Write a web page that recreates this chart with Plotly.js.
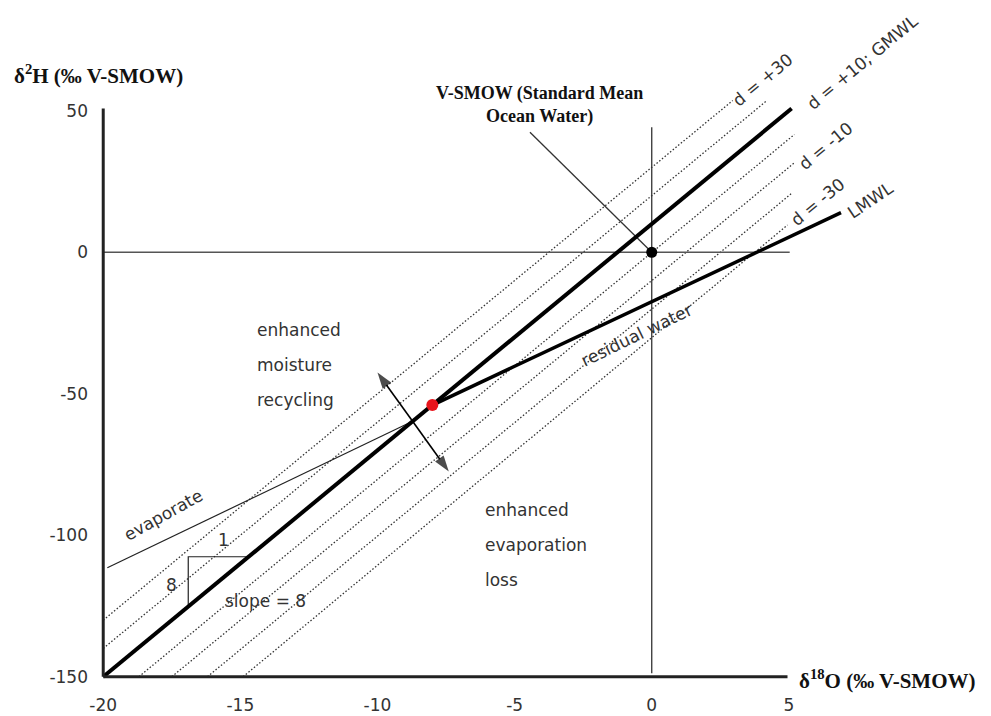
<!DOCTYPE html>
<html>
<head>
<meta charset="utf-8">
<script src="https://cdn.plot.ly/plotly-3.0.1.min.js"></script>
<style>html,body{margin:0;padding:0;background:#fff;}#chart{width:991px;height:716px;}</style>
</head>
<body>
<div id="chart"></div>
<script>
// ---- data ----
const xTickVals = [-20, -15, -10, -5, 0, 5];
const xTickText = ['-20', '-15', '-10', '-5', '0', '5'];
const yTickVals = [-150, -100, -50, 0, 50];
const yTickText = ['-150', '-100', '-50', '0', '50'];

// GMWL (d = +10)
const gmwlX = [-20, 5.1];
const gmwlY = [-150, 50.8];

// dotted deuterium-excess lines
const dValues = [30, 20, 0, -10, -20, -30];
const dStartX = [-20, -20, -18.7, -17.5, -16.2, -14.9];
const dStartY = [-130, -140, -150, -150, -150, -150];
const dEndX = [2.95, 4.2, 5.2, 5.2, 5.1, 4.95];
const dEndY = [53.6, 53.6, 41.6, 31.6, 20.8, 9.6];

// LMWL
const lmwlX = [-8, 6.9];
const lmwlY = [-54, 14];

// evaporation line
const evapX = [-19.85, -8.7];
const evapY = [-111.5, -59.6];

// slope triangle
const triX = [-16.9, -16.9, -14.7];
const triY = [-125.2, -107.6, -107.6];

// reference lines
const zeroH_X = [-20, 5.03];
const zeroH_Y = [0, 0];
const zeroV_X = [0, 0];
const zeroV_Y = [-148.8, 44.2];

// pointer to V-SMOW
const pointerX = [-4.44, 0];
const pointerY = [42.4, 0];

// axes
const axisLeftX = [-20, -20];
const axisLeftY = [-150, 50.8];
const axisBottomX = [-20, 4.95];
const axisBottomY = [-150, -150];

// points
const vsmowPtX = [0], vsmowPtY = [0];
const meetPtX = [-8], meetPtY = [-54];

// double arrow: middle, upper tip, lower tip
const arrowMidX = -8.7, arrowMidY = -60;
const arrowTopX = -10.0, arrowTopY = -42.5;
const arrowBotX = -7.4, arrowBotY = -77.5;

// ---- traces ----
const traces = [];
function line(x, y, color, width, dash) {
  traces.push({x: x, y: y, mode: 'lines', type: 'scatter', hoverinfo: 'skip',
    line: {color: color, width: width, dash: dash || 'solid'}, showlegend: false});
}
for (let i = 0; i < dValues.length; i++) {
  line([dStartX[i], dEndX[i]], [dStartY[i], dEndY[i]], '#333', 1.3, '1.5px,2px');
}
line(zeroH_X, zeroH_Y, '#555', 1.5);
line(zeroV_X, zeroV_Y, '#333', 1.3);
line(pointerX, pointerY, '#333', 1.3);
line(evapX, evapY, '#222', 1.2);
line(triX, triY, '#222', 1.2);
line(gmwlX, gmwlY, '#000', 4);
line(lmwlX, lmwlY, '#000', 3.5);
line(axisLeftX, axisLeftY, '#222', 3);
line(axisBottomX, axisBottomY, '#222', 3);
// double-headed arrow (two halves with arrow markers at the tips)
[[arrowTopX, arrowTopY], [arrowBotX, arrowBotY]].forEach(function (tip) {
  traces.push({x: [arrowMidX, tip[0]], y: [arrowMidY, tip[1]], mode: 'lines+markers', type: 'scatter',
    hoverinfo: 'skip', showlegend: false, line: {color: '#000', width: 1.6},
    marker: {symbol: 'arrow', angleref: 'previous', size: [0, 17], color: '#000', line: {width: 0}}});
});
traces.push({x: vsmowPtX, y: vsmowPtY, mode: 'markers', type: 'scatter', hoverinfo: 'skip',
  marker: {color: '#000', size: 11}, showlegend: false});
traces.push({x: meetPtX, y: meetPtY, mode: 'markers', type: 'scatter', hoverinfo: 'skip',
  marker: {color: '#e8141b', size: 12}, showlegend: false});

const sans = 'DejaVu Sans, Verdana, sans-serif';
const serif = 'Liberation Serif, Times New Roman, serif';
const txtColor = '#333';
function note(x, y, text, opts) {
  return Object.assign({x: x, y: y, xref: 'x', yref: 'y', text: text, showarrow: false,
    font: {family: sans, size: 17, color: txtColor}, xanchor: 'center', yanchor: 'middle'}, opts || {});
}

const annotations = [
  // axis titles
  {x: -0.0999, y: 0.9454, xref: 'paper', yref: 'paper', xanchor: 'left', yanchor: 'middle', showarrow: false,
   text: '<b>δ<sup>2</sup>H (‰ V-SMOW)</b>', font: {family: serif, size: 21, color: '#111'}},
  {x: 0.8448, y: 0.0016, xref: 'paper', yref: 'paper', xanchor: 'left', yanchor: 'middle', showarrow: false,
   text: '<b>δ<sup>18</sup>O (‰ V-SMOW)</b>', font: {family: serif, size: 21, color: '#111'}},
  // V-SMOW title
  note(-4.08, 52.1, '<b>V-SMOW (Standard Mean<br>Ocean Water)</b>', {font: {family: serif, size: 18, color: '#111'}, align: 'center'}),
  // line labels
  note(4.04, 60.8, 'd = +30', {textangle: -39.5}),
  note(7.69, 67.1, 'd = +10; GMWL', {textangle: -39.5}),
  note(6.34, 37.5, 'd = -10', {textangle: -39.5}),
  note(6.05, 17.7, 'd = -30', {textangle: -39.5}),
  note(7.98, 18.4, 'LMWL', {textangle: -34}),
  note(-0.55, -29.2, 'residual water', {textangle: -26}),
  note(-17.81, -92.9, 'evaporate', {textangle: -29}),
  // region text
  note(-14.46, -27.6, 'enhanced', {xanchor: 'left'}),
  note(-14.46, -39.9, 'moisture', {xanchor: 'left'}),
  note(-14.46, -52.3, 'recycling', {xanchor: 'left'}),
  note(-6.16, -91.2, 'enhanced', {xanchor: 'left'}),
  note(-6.16, -103.5, 'evaporation', {xanchor: 'left'}),
  note(-6.16, -115.9, 'loss', {xanchor: 'left'}),
  // slope triangle
  note(-14.1, -123.3, 'slope = 8'),
  note(-15.63, -101.8, '1'),
  note(-17.52, -117.7, '8')
];

const layout = {
  width: 991, height: 716,
  margin: {l: 95, r: 65, t: 40, b: 35},
  paper_bgcolor: '#fff', plot_bgcolor: '#fff',
  showlegend: false,
  xaxis: {range: [-20.3, 10], showgrid: false, zeroline: false, showline: false,
    tickmode: 'array', tickvals: xTickVals, ticktext: xTickText, ticks: '',
    ticklabelstandoff: 12, tickfont: {family: sans, size: 17, color: txtColor}, fixedrange: true},
  yaxis: {range: [-151.5, 75], showgrid: false, zeroline: false, showline: false,
    tickmode: 'array', tickvals: yTickVals, ticktext: yTickText, ticks: '',
    ticklabelstandoff: 6, tickfont: {family: sans, size: 17, color: txtColor}, fixedrange: true},
  annotations: annotations
};

Plotly.newPlot('chart', traces, layout, {displayModeBar: false, staticPlot: true});
</script>
</body>
</html>
